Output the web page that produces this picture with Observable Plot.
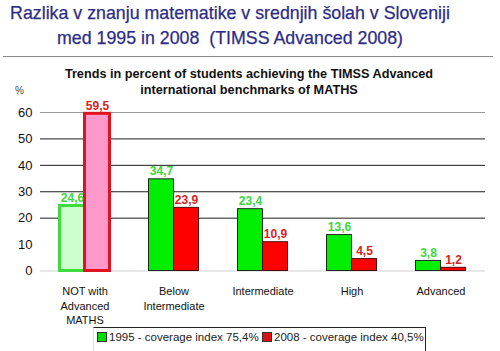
<!DOCTYPE html>
<html>
<head>
<meta charset="utf-8">
<script src="https://cdn.jsdelivr.net/npm/d3@7"></script>
<script src="https://cdn.jsdelivr.net/npm/@observablehq/plot@0.6"></script>
<style>
  html, body { margin: 0; padding: 0; background: #fff; }
  #wrap { position: relative; width: 500px; height: 351px; overflow: hidden; font-family: "Liberation Sans", Arial, sans-serif; }
  .title { position: absolute; left: 0; width: 460px; text-align: center; font-family: "Liberation Sans", Arial, sans-serif; font-size: 17.8px; line-height: 25px; color: #2c2c86; white-space: nowrap; -webkit-text-stroke: 0.25px #2c2c86; }
  #rule { position: absolute; left: 3px; top: 56px; width: 490px; height: 0; border-top: 1.5px solid #8a8a8a; }
  .sub { position: absolute; left: 0; width: 498px; text-align: center; font-weight: bold; font-size: 12.7px; line-height: 16px; color: #111; white-space: nowrap; }
  #pct { position: absolute; left: 15px; top: 85px; font-size: 10px; color: #444; }
  #chart { position: absolute; left: 0; top: 95px; }
  #legend { position: absolute; left: 93px; top: 327px; width: 331px; height: 30px; border-top: 1px solid #222; border-right: 1px solid #222; border-left: 1px solid #ddd; font-size: 11.5px; color: #222; }
  .item { position: absolute; top: 3px; white-space: nowrap; line-height: 13px; }
  .sw { display: inline-block; width: 8px; height: 8px; border: 1px solid #333; margin-right: 2px; vertical-align: -1px; }
</style>
</head>
<body>
<div id="wrap">
  <div class="title" style="top:1px;">Razlika v znanju matematike v srednjih šolah v Sloveniji</div>
  <div class="title" style="top:26px;">med 1995 in 2008&nbsp; (TIMSS Advanced 2008)</div>
  <div id="rule"></div>
  <div class="sub" style="top:66px;">Trends in percent of students achieving the TIMSS Advanced</div>
  <div class="sub" style="top:82px;">international benchmarks of MATHS</div>
  <div id="pct">%</div>
  <div id="chart"></div>
  <div id="legend"></div>
</div>
<script>
const categories = ["NOT with Advanced MATHS", "Below Intermediate", "Intermediate", "High", "Advanced"];
const categoryLabels = ["NOT with\nAdvanced\nMATHS", "Below\nIntermediate", "Intermediate", "High", "Advanced"];
const years = ["1995", "2008"];
const values1995 = [24.6, 34.7, 23.4, 13.6, 3.8];
const values2008 = [59.5, 23.9, 10.9, 4.5, 1.2];
const yTicks = [0, 10, 20, 30, 40, 50, 60];
const gridDark = [20, 30, 40, 50];
const gridTop = [60];
const legendLabels = ["1995 - coverage index 75,4%", "2008 - coverage index 40,5%"];

const labelOf = new Map(categories.map((c, i) => [c, categoryLabels[i]]));
const data = categories.flatMap((c, i) => [
  {category: c, year: years[0], value: values1995[i], first: i === 0},
  {category: c, year: years[1], value: values2008[i], first: i === 0}
]);
const fmt = v => v.toFixed(1).replace(".", ",");
const is = (yr, first) => d => d.year === yr && d.first === first;

const chart = Plot.plot({
  width: 500,
  height: 232,
  marginLeft: 38.5,
  marginRight: 14,
  marginTop: 17,
  marginBottom: 56.5,
  style: {fontFamily: "'Liberation Sans', Arial, sans-serif", background: "transparent", color: "#111"},
  fx: {domain: categories, paddingInner: 0, paddingOuter: 0, label: null},
  x: {domain: years, paddingInner: 0, paddingOuter: 0.72, axis: null},
  y: {domain: [0, 60], label: null},
  marks: [
    Plot.ruleY(gridDark, {stroke: "#1e1e1e", strokeWidth: 1}),
    Plot.ruleY(gridTop, {stroke: "#999", strokeWidth: 1}),
    Plot.ruleY([0], {stroke: "#d0d0d0", strokeWidth: 1}),
    Plot.axisY({ticks: yTicks, tickSize: 0, tickPadding: 8, fontSize: 13, label: null}),
    Plot.axisFx({anchor: "bottom", tickSize: 0, tickPadding: 14, fontSize: 11, lineHeight: 1.32, label: null, tickFormat: d => labelOf.get(d)}),
    Plot.barY(data.filter(is("1995", true)), {fx: "category", x: "year", y: "value", fill: "#ccffcc", stroke: "#3ddc3d", strokeWidth: 3}),
    Plot.barY(data.filter(is("2008", true)), {fx: "category", x: "year", y: "value", fill: "#ff99cc", stroke: "#e0141e", strokeWidth: 3}),
    Plot.barY(data.filter(is("1995", false)), {fx: "category", x: "year", y: "value", fill: "#00ee00", stroke: "#1a2a1a", strokeWidth: 1}),
    Plot.barY(data.filter(is("2008", false)), {fx: "category", x: "year", y: "value", fill: "#ff0000", stroke: "#4a0a0a", strokeWidth: 1}),
    Plot.text(data.filter(d => d.year === "1995"), {fx: "category", x: "year", y: "value", text: d => fmt(d.value), fill: "#3ad83a", fontWeight: "bold", fontSize: 12, lineAnchor: "bottom", dy: -4}),
    Plot.text(data.filter(d => d.year === "2008"), {fx: "category", x: "year", y: "value", text: d => fmt(d.value), fill: "#d42424", fontWeight: "bold", fontSize: 12, lineAnchor: "bottom", dy: -4})
  ]
});
document.getElementById("chart").appendChild(chart);

const legend = document.getElementById("legend");
const swatches = ["#00dd00", "#dd1111"];
const lefts = [3, 168];
legendLabels.forEach((t, i) => {
  const it = document.createElement("div");
  it.className = "item";
  it.style.left = lefts[i] + "px";
  const sw = document.createElement("span");
  sw.className = "sw";
  sw.style.background = swatches[i];
  it.appendChild(sw);
  it.appendChild(document.createTextNode(t));
  legend.appendChild(it);
});
</script>
</body>
</html>
